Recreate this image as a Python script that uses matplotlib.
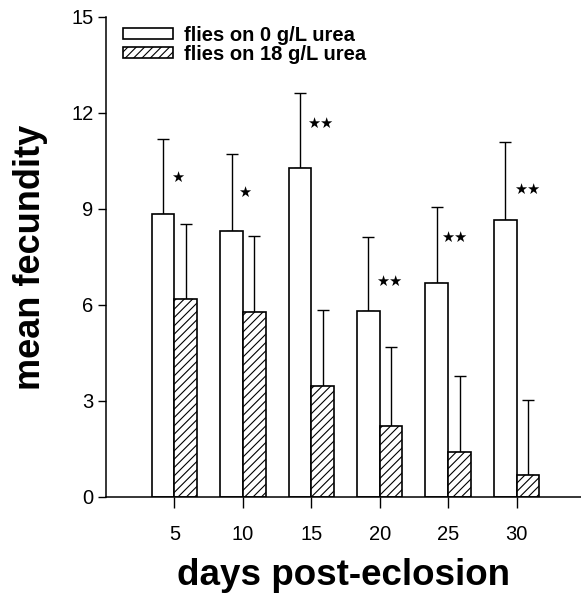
import numpy as np
import matplotlib.pyplot as plt

plt.rcParams['font.family'] = ['Liberation Sans', 'DejaVu Sans']
plt.rcParams['hatch.linewidth'] = 0.8

# data
days = [5, 10, 15, 20, 25, 30]
urea0_mean = [8.83, 8.32, 10.28, 5.80, 6.68, 8.66]
urea0_err = [2.37, 2.40, 2.34, 2.33, 2.38, 2.44]
urea18_mean = [6.20, 5.78, 3.47, 2.23, 1.40, 0.68]
urea18_err = [2.34, 2.38, 2.37, 2.45, 2.37, 2.34]
signif = ['\u2605', '\u2605', '\u2605\u2605', '\u2605\u2605', '\u2605\u2605', '\u2605\u2605']
signif_y = [10.0, 9.53, 11.66, 6.75, 8.1, 9.6]
signif_x = [5.26, 10.16, 15.64, 20.69, 25.44, 30.78]

x = np.array(days, dtype=float)
w = 1.66

fig = plt.figure(figsize=(5.81, 6.0), dpi=100)
ax = fig.add_axes([106 / 581, 1 - 497 / 600, 1 - 106 / 581, 480 / 600])

ax.bar(x - w / 2, urea0_mean, w, color='white', edgecolor='black', lw=1.2,
       label='flies on 0 g/L urea', zorder=2)
ax.bar(x + w / 2, urea18_mean, w, color='white', edgecolor='black', lw=1.2,
       hatch='////', label='flies on 18 g/L urea', zorder=2)

ax.errorbar(x - w / 2, urea0_mean, yerr=[np.zeros(6), urea0_err], fmt='none',
            ecolor='black', elinewidth=1.0, capsize=4, capthick=1.0, zorder=1)
ax.errorbar(x + w / 2, urea18_mean, yerr=[np.zeros(6), urea18_err], fmt='none',
            ecolor='black', elinewidth=1.0, capsize=4, capthick=1.0, zorder=1)

for sx, sy, s in zip(signif_x, signif_y, signif):
    ax.text(sx, sy, s, ha='center', va='center', fontsize=10.5,
            family='DejaVu Sans')

ax.set_xlim(0, 34.7)
ax.set_ylim(0, 15)
ax.set_xticks(days)
ax.set_yticks([0, 3, 6, 9, 12, 15])
ax.tick_params(axis='x', length=8, width=1, pad=12, labelsize=14.5)
ax.tick_params(axis='y', length=6, width=1, pad=3, labelsize=14.5)
ax.spines['top'].set_visible(False)
ax.spines['right'].set_visible(False)
ax.spines['left'].set_linewidth(1.1)
ax.spines['bottom'].set_linewidth(1.1)

ax.set_xlabel('days post-eclosion', fontsize=26.5, fontweight='bold', labelpad=10)
ax.set_ylabel('mean fecundity', fontsize=26, fontweight='bold', labelpad=17)

ax.legend(loc='upper left', bbox_to_anchor=(0.036, 0.982), frameon=False,
          prop={'weight': 'bold', 'size': 14.5}, handlelength=2.5,
          handleheight=0.5, handletextpad=0.5, labelspacing=0.0,
          borderaxespad=0, borderpad=0)

fig.savefig('out.png', dpi=100)
